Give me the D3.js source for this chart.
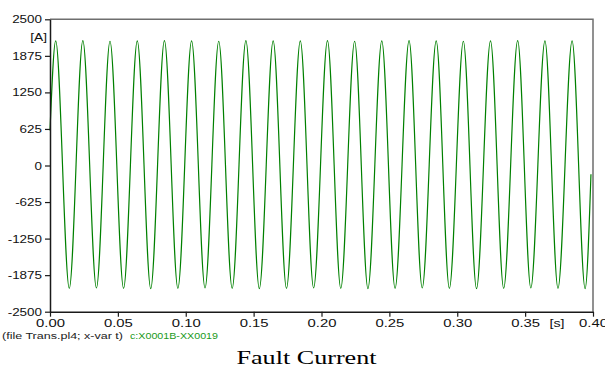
<!DOCTYPE html>
<html>
<head>
<meta charset="utf-8">
<script src="https://cdn.jsdelivr.net/npm/d3@7"></script>
<style>
  body { margin: 0; background: #fff; }
  svg { display: block; }
</style>
</head>
<body>
<svg width="605" height="369"></svg>
<script>
// time of each read point (s): start, then peak / trough pairs, then end
const sampleTime = [0,
    0.0042, 0.0142, 0.0242, 0.0342, 0.0442, 0.0542, 0.0643, 0.0742, 0.0843, 0.0942,
    0.1043, 0.1142, 0.1243, 0.1342, 0.1443, 0.1542, 0.1644, 0.1742, 0.1844, 0.1942,
    0.2044, 0.2142, 0.2244, 0.2342, 0.2444, 0.2542, 0.2645, 0.2742, 0.2845, 0.2942,
    0.3045, 0.3142, 0.3245, 0.3342, 0.3445, 0.3542, 0.3646, 0.3742, 0.3846, 0.3942,
    0.3985];

// fault current (A) at those points
const current = [600,
    2130, -2100, 2135, -2095, 2125, -2100, 2130, -2105, 2135, -2100,
    2130, -2095, 2125, -2100, 2135, -2105, 2130, -2100, 2130, -2095,
    2135, -2100, 2125, -2105, 2130, -2100, 2135, -2095, 2130, -2100,
    2125, -2105, 2130, -2100, 2135, -2095, 2130, -2100, 2130, -2105,
    -150];

const xTicks = [0, 0.05, 0.10, 0.15, 0.20, 0.25, 0.30, 0.35, 0.40];
const yTicks = [-2500, -1875, -1250, -625, 0, 625, 1250, 1875, 2500];

const svg = d3.select("svg");

const area = { left: 50, right: 593, top: 19.3, bottom: 311.7 };

const scX = d3.scaleLinear().domain([0, 0.4]).range([area.left, area.right]);
const scY = d3.scaleLinear().domain([-2500, 2500]).range([area.bottom, area.top]);

// stretch text horizontally like the source picture
function stretch(sel, k) {
    sel.each(function () {
        const w = this.getComputedTextLength();
        d3.select(this).attr("textLength", w * k).attr("lengthAdjust", "spacingAndGlyphs");
    });
}

// frame top / right
svg.append("path")
    .attr("d", `M${area.left},${area.top}H${area.right}V${area.bottom}`)
    .attr("fill", "none")
    .attr("stroke", "#6e6e6e")
    .attr("stroke-width", 1.5);

// curve
const points = sampleTime.map((t, i) => [t, current[i]]);
const lineGen = d3.line()
    .x(d => scX(d[0]))
    .y(d => scY(d[1]))
    .curve(d3.curveMonotoneX);

svg.append("path")
    .attr("d", lineGen(points))
    .attr("fill", "none")
    .attr("stroke", "#008000")
    .attr("stroke-width", 1.2);

// axes
const axisY = d3.axisLeft(scY).tickValues(yTicks).tickFormat(d => d).tickSize(5).tickSizeOuter(0).tickPadding(3);
const gY = svg.append("g")
    .attr("transform", `translate(${area.left},0)`)
    .call(axisY);

const axisX = d3.axisBottom(scX).tickValues(xTicks).tickFormat(d3.format(".2f")).tickSize(5).tickSizeOuter(0).tickPadding(3);
const gX = svg.append("g")
    .attr("transform", `translate(0,${area.bottom})`)
    .call(axisX);

for (const g of [gX, gY]) {
    g.select(".domain").attr("stroke", "#1a1a1a").attr("stroke-width", 1.5);
    g.selectAll(".tick line").attr("stroke", "#1a1a1a").attr("stroke-width", 1.2);
    g.selectAll(".tick text")
        .attr("fill", "#111")
        .style("font-family", "'Liberation Sans', Arial, sans-serif")
        .style("font-size", "11px");
}
stretch(gY.selectAll(".tick text"), 1.22);
stretch(gX.selectAll(".tick text"), 1.35);

// unit labels
const unitA = svg.append("text")
    .attr("x", 47).attr("y", 41)
    .attr("text-anchor", "end")
    .attr("fill", "#111")
    .style("font-family", "'Liberation Sans', Arial, sans-serif")
    .style("font-size", "11px")
    .text("[A]");
stretch(unitA, 1.25);

const unitS = svg.append("text")
    .attr("x", 557).attr("y", 327)
    .attr("text-anchor", "middle")
    .attr("fill", "#111")
    .style("font-family", "'Liberation Sans', Arial, sans-serif")
    .style("font-size", "11px")
    .text("[s]");
stretch(unitS, 1.3);

// footer
const foot1 = svg.append("text")
    .attr("x", 2).attr("y", 338.5)
    .attr("fill", "#222")
    .style("font-family", "'Liberation Sans', Arial, sans-serif")
    .style("font-size", "8.5px")
    .text("(file Trans.pl4; x-var t)");
foot1.attr("textLength", 121).attr("lengthAdjust", "spacingAndGlyphs");

const foot2 = svg.append("text")
    .attr("x", 130).attr("y", 338.5)
    .attr("fill", "#1a9a1a")
    .style("font-family", "'Liberation Sans', Arial, sans-serif")
    .style("font-size", "8.5px")
    .text("c:X0001B-XX0019");
foot2.attr("textLength", 88).attr("lengthAdjust", "spacingAndGlyphs");

// title
svg.append("text")
    .attr("x", 306.5).attr("y", 363.5)
    .attr("text-anchor", "middle")
    .attr("fill", "#000")
    .style("font-family", "'Liberation Serif', 'Times New Roman', serif")
    .style("font-size", "19px")
    .attr("textLength", 140)
    .attr("lengthAdjust", "spacingAndGlyphs")
    .text("Fault Current");
</script>
</body>
</html>
